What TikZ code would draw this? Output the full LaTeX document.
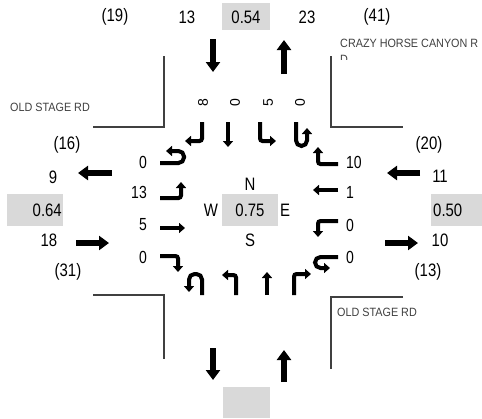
\documentclass[tikz,border=0pt]{standalone}
\usepackage{fontspec}
\setmainfont{Liberation Sans}
\newfontfamily\labfont[FakeStretch=0.83]{Liberation Sans}
\newfontfamily\lanefont[FakeStretch=0.8]{Liberation Sans}
\newfontfamily\roadfont[FakeStretch=0.9]{Liberation Sans}
\usetikzlibrary{arrows.meta}
\begin{document}
\begin{tikzpicture}[x=1pt,y=-1pt,
  lbl/.style={font=\labfont\fontsize{18}{20}\selectfont, inner sep=0pt},
  lanelbl/.style={font=\lanefont\fontsize{17.5}{20}\selectfont, inner sep=0pt},
  rotlbl/.style={font=\fontsize{14}{16}\selectfont, inner sep=0pt, rotate=90},
  road/.style={draw=black!75, line width=1.5pt},
  rname/.style={font=\roadfont\fontsize{12}{14}\selectfont, text=black!75, inner sep=0pt, anchor=west},
  gbox/.style={fill=black!15, draw=none},
  big/.style={line width=6pt, -{Triangle[length=10pt,width=14pt]}},
  lane/.style={line width=4pt, -{Triangle[length=6pt,width=10pt]}, rounded corners=2.5pt},
  uturn/.style={line width=4pt, -{Triangle[length=6pt,width=10pt]}, rounded corners=5.5pt},
]
\useasboundingbox (0,0) rectangle (482,418);

% grey boxes
\fill[gbox] (222,3) rectangle (270,30);
\fill[gbox] (7,194) rectangle (63,226);
\fill[gbox] (431,194) rectangle (482,226);
\fill[gbox] (222,194) rectangle (278,226);
\fill[gbox] (223,387) rectangle (270,418);

% road edges
\draw[road] (93,127) -- (164,127) -- (164,56);
\draw[road] (331,56) -- (331,127) -- (403,127);
\draw[road] (93,295) -- (164,295) -- (164,359);
\draw[road] (403,297) -- (331,297) -- (331,369);

% road names
\node[rname] (rn1) at (10,107) {OLD STAGE RD};
\node[rname] (rn2) at (340,43.5) {CRAZY HORSE CANYON R};
\begin{scope}
  \clip (335,50) rectangle (482,59);
  \node[rname, anchor=north west] (rn2b) at (340,55) {D};
\end{scope}
\node[rname] (rn3) at (337,312) {OLD STAGE RD};

% top labels
\node[lbl] (t19) at (115,17) {(19)};
\node[lbl] (t13) at (187,17) {13};
\node[lbl] (t054) at (246,17) {0.54};
\node[lbl] (t23) at (307,17) {23};
\node[lbl] (t41) at (377,17) {(41)};

% left labels
\node[lbl] (l16) at (67,145) {(16)};
\node[lbl] (l9) at (53,177) {9};
\node[lbl, anchor=east] (l064) at (62,210) {0.64};
\node[lbl] (l18) at (49,240) {18};
\node[lbl] (l31) at (68,272) {(31)};

% right labels
\node[lbl] (r20) at (429,145) {(20)};
\node[lbl] (r11) at (440,176) {11};
\node[lbl, anchor=west] (r050) at (433,210) {0.50};
\node[lbl] (r10) at (440,240) {10};
\node[lbl] (r13) at (428,272) {(13)};

% centre
\node[lbl] (c075) at (250,210) {0.75};
\node[lbl] (cN) at (250,184) {N};
\node[lbl] (cW) at (211,210) {W};
\node[lbl] (cE) at (285,210) {E};
\node[lbl] (cS) at (250,240) {S};

% lane volumes
\node[lanelbl, anchor=east] (e1) at (147,162) {0};
\node[lanelbl, anchor=east] (e2) at (147,192) {13};
\node[lanelbl, anchor=east] (e3) at (147,225) {5};
\node[lanelbl, anchor=east] (e4) at (147,257) {0};
\node[lanelbl, anchor=west] (w1) at (346,162) {10};
\node[lanelbl, anchor=west] (w2) at (346,192) {1};
\node[lanelbl, anchor=west] (w3) at (346,225) {0};
\node[lanelbl, anchor=west] (w4) at (346,257) {0};
\node[rotlbl] (s1) at (203,103) {8};
\node[rotlbl] (s2) at (235,103) {0};
\node[rotlbl] (s3) at (268,103) {5};
\node[rotlbl] (s4) at (300,103) {0};

% big approach / departure arrows
\draw[big] (213,39) -- (213,72);
\draw[big] (284,74) -- (284,40);
\draw[big] (213,348) -- (213,380);
\draw[big] (284,382) -- (284,350);
\draw[big] (112,173) -- (78,173);
\draw[big] (76,243) -- (109,243);
\draw[big] (420,173) -- (387,173);
\draw[big] (385,243) -- (418,243);

% southbound lanes
\draw[lane] (202,122) -- (202,141) -- (185,141);
\draw[lane] (228,122) -- (228,147);
\draw[lane] (260,122) -- (260,141) -- (276,141);
\draw[uturn] (296,122) -- (296,146) -- (307,146) -- (307,128);

% eastbound lanes
\draw[uturn] (160,163) -- (184,163) -- (184,151) -- (166,151);
\draw[lane] (160,198) -- (181,198) -- (181,182);
\draw[lane] (160,228) -- (185,228);
\draw[lane] (160,256) -- (178,256) -- (178,272);

% westbound lanes
\draw[lane] (338,164) -- (318,164) -- (318,147);
\draw[lane] (338,190) -- (313,190);
\draw[lane] (338,221) -- (318,221) -- (318,237);
\draw[uturn] (338,257) -- (315,257) -- (315,268) -- (330,268);

% northbound lanes
\draw[uturn] (202,295) -- (202,274) -- (189,274) -- (189,292);
\draw[lane] (236,295) -- (236,275) -- (222,275);
\draw[lane] (267,295) -- (267,272);
\draw[lane] (294,295) -- (294,274) -- (311,274);
\end{tikzpicture}
\end{document}
